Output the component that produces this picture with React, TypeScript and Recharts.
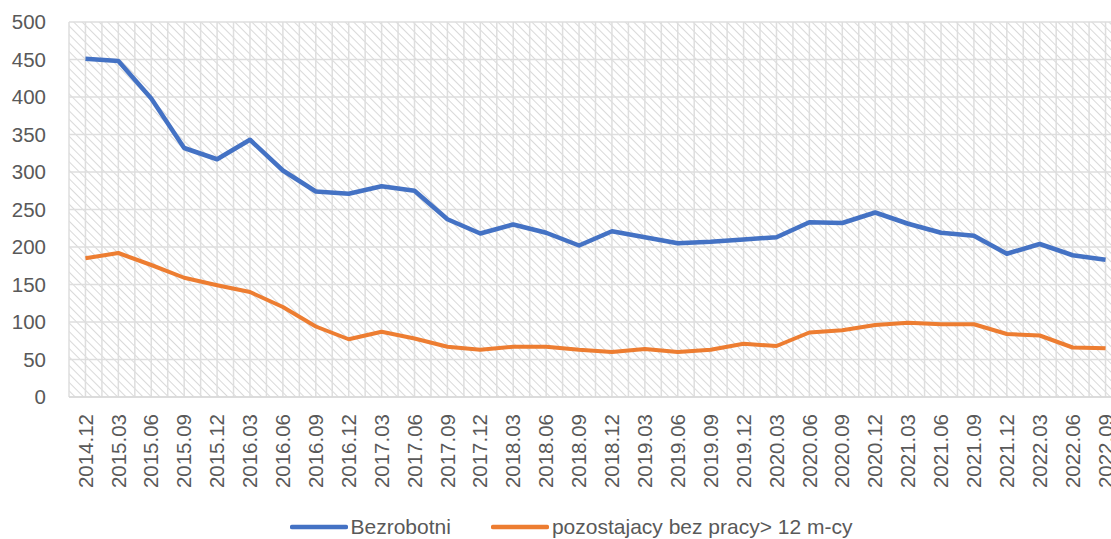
import { LineChart, Line, XAxis, YAxis, CartesianGrid, Legend } from "recharts";

const categories = [
  "2014.12", "2015.03", "2015.06", "2015.09", "2015.12", "2016.03", "2016.06", "2016.09",
  "2016.12", "2017.03", "2017.06", "2017.09", "2017.12", "2018.03", "2018.06", "2018.09",
  "2018.12", "2019.03", "2019.06", "2019.09", "2019.12", "2020.03", "2020.06", "2020.09",
  "2020.12", "2021.03", "2021.06", "2021.09", "2021.12", "2022.03", "2022.06", "2022.09",
];

const bezrobotni = [
  451, 448, 398, 332, 317, 343, 302, 274, 271, 281, 275, 237, 218, 230, 219, 202,
  221, 213, 205, 207, 210, 213, 233, 232, 246, 231, 219, 215, 191, 204, 189, 183,
];

const dlugotrwale = [
  185, 192, 176, 159, 149, 140, 120, 94, 77, 87, 78, 67, 63, 67, 67, 63,
  60, 64, 60, 63, 71, 68, 86, 89, 96, 99, 97, 97, 84, 82, 66, 65,
];

const yTicks = [0, 50, 100, 150, 200, 250, 300, 350, 400, 450, 500];

const data = categories.map((c, i) => ({
  okres: c,
  bezrobotni: bezrobotni[i],
  dlugotrwale: dlugotrwale[i],
}));

const FONT = "'Liberation Sans', Arial, sans-serif";
const TEXT = "#595959";
const BLUE = "#4472C4";
const ORANGE = "#ED7D31";

const RotatedTick = (props: any) => {
  const { x, y, payload } = props;
  return (
    <text
      x={x}
      y={y + 15}
      transform={`rotate(-90, ${x}, ${y + 15})`}
      textAnchor="end"
      dy="0.35em"
      fill={TEXT}
      fontSize={20.5}
      fontFamily={FONT}
    >
      {payload.value}
    </text>
  );
};

const LegendBox = () => (
  <div
    style={{
      height: 42,
      display: "flex",
      justifyContent: "center",
      alignItems: "flex-end",
      fontFamily: FONT,
      fontSize: 21,
      color: TEXT,
      paddingLeft: 20,
      boxSizing: "border-box",
    }}
  >
    {[
      { name: "Bezrobotni", color: BLUE },
      { name: "pozostajacy bez pracy> 12 m-cy", color: ORANGE },
    ].map((item, i) => (
      <div key={i} style={{ display: "flex", alignItems: "center", marginRight: i === 0 ? 40 : 0, lineHeight: "24px" }}>
        <svg width={58} height={8} style={{ marginRight: 3 }}>
          <line x1={2} y1={4} x2={56} y2={4} stroke={item.color} strokeWidth={4.5} strokeLinecap="round" />
        </svg>
        <span>{item.name}</span>
      </div>
    ))}
  </div>
);

export default function App() {
  return (
    <div style={{ position: "absolute", left: 0, top: 0, width: 1111, height: 539, overflow: "hidden", background: "#fff" }}>
      <LineChart width={1122} height={539} data={data} margin={{ top: 22, right: 0, left: 0, bottom: 0 }}>
        <defs>
          <pattern id="hatch" width="6" height="6" patternUnits="userSpaceOnUse" patternTransform="rotate(-45)">
            <rect width="6" height="6" fill="#ffffff" />
            <line x1="0" y1="0" x2="0" y2="6" stroke="#d9d9d9" strokeWidth="2" />
          </pattern>
        </defs>
        <CartesianGrid
          fill="url(#hatch)"
          stroke="#dedede"
          strokeWidth={1.5}
          verticalCoordinatesGenerator={({ offset }: any) =>
            Array.from({ length: 65 }, (_, k) => offset.left + (k * offset.width) / 64)
          }
        />
        <XAxis
          dataKey="okres"
          interval={0}
          height={100}
          tickSize={0}
          padding={{ left: 16.45, right: 16.45 }}
          tick={<RotatedTick />}
          axisLine={{ stroke: "#d9d9d9", strokeWidth: 1.5 }}
          tickLine={false}
        />
        <YAxis
          width={69}
          domain={[0, 500]}
          ticks={yTicks}
          tickSize={0}
          tickMargin={23}
          axisLine={false}
          tickLine={false}
          tick={{ fill: TEXT, fontSize: 20.5, fontFamily: FONT }}
        />
        <Line
          dataKey="bezrobotni"
          name="Bezrobotni"
          stroke={BLUE}
          strokeWidth={4.5}
          dot={false}
          strokeLinejoin="round"
          isAnimationActive={false}
        />
        <Line
          dataKey="dlugotrwale"
          name="pozostajacy bez pracy> 12 m-cy"
          stroke={ORANGE}
          strokeWidth={4}
          dot={false}
          strokeLinejoin="round"
          isAnimationActive={false}
        />
        <Legend verticalAlign="bottom" content={<LegendBox />} />
      </LineChart>
    </div>
  );
}
